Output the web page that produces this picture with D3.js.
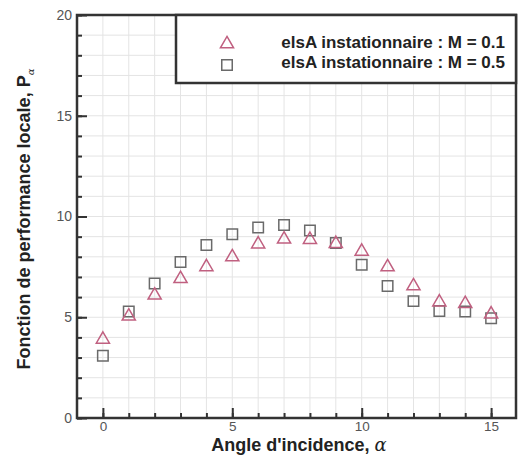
<!DOCTYPE html>
<html><head><meta charset="utf-8">
<script src="https://cdn.jsdelivr.net/npm/d3@7"></script>
<style>body{margin:0;background:#fff;}svg{display:block;}</style>
</head><body>
<script>
const alphas = [0,1,2,3,4,5,6,7,8,9,10,11,12,13,14,15];
const pM01 = [3.95,5.1,6.14,6.96,7.55,8.04,8.68,8.92,8.9,8.7,8.32,7.54,6.6,5.8,5.72,5.2];
const pM05 = [3.09,5.28,6.68,7.74,8.58,9.12,9.45,9.58,9.3,8.68,7.61,6.55,5.8,5.31,5.28,4.95];
const xTicks = [0,5,10,15];
const yTicks = [0,5,10,15,20];
const legendLabels = ["elsA instationnaire : M = 0.1","elsA instationnaire : M = 0.5"];

const W=518,H=459;
const L=77,R=517,T=15,B=418;
const svg=d3.select("body").append("svg").attr("width",W).attr("height",H);
const x=d3.scaleLinear().domain([-1,16]).range([L,R]);
const y=d3.scaleLinear().domain([0,20]).range([B,T]);
const font="Liberation Sans, Arial, sans-serif";

// grid
const g=svg.append("g");
g.selectAll(".gx").data(d3.range(0,16)).enter().append("line")
 .attr("x1",d=>x(d)).attr("x2",d=>x(d)).attr("y1",T).attr("y2",B)
 .attr("stroke","#e4e4e4").attr("stroke-width",1);
g.selectAll(".gy").data(d3.range(1,20)).enter().append("line")
 .attr("y1",d=>y(d)).attr("y2",d=>y(d)).attr("x1",L).attr("x2",R)
 .attr("stroke","#e4e4e4").attr("stroke-width",1);

// axes with inward ticks
const xMinor=d3.axisBottom(x).tickValues(d3.range(0,16)).tickSize(-5).tickFormat("");
const xMajor=d3.axisBottom(x).tickValues(xTicks).tickSize(-10).tickPadding(3);
const yMinor=d3.axisLeft(y).tickValues(d3.range(0,21)).tickSize(-5).tickFormat("");
const yMajor=d3.axisLeft(y).tickValues(yTicks).tickSize(-10).tickPadding(5);
[xMinor,xMajor].forEach(a=>{
  const ax=svg.append("g").attr("transform",`translate(0,${B})`).call(a);
  ax.select(".domain").remove();
  ax.selectAll("line").attr("stroke","#333").attr("stroke-width",2);
  ax.selectAll("text").attr("font-family",font).attr("font-size",13.5).attr("fill","#555");
});
[yMinor,yMajor].forEach(a=>{
  const ax=svg.append("g").attr("transform",`translate(${L},0)`).call(a);
  ax.select(".domain").remove();
  ax.selectAll("line").attr("stroke","#333").attr("stroke-width",2);
  ax.selectAll("text").attr("font-family",font).attr("font-size",14).attr("fill","#555");
});

// frame
svg.append("rect").attr("x",L).attr("y",T).attr("width",R-L-1).attr("height",B-T)
 .attr("fill","none").attr("stroke","#333").attr("stroke-width",2.5);

// markers
const tri=d3.symbol().type(d3.symbolTriangle).size(75);
const sq=d3.symbol().type(d3.symbolSquare).size(110);
const triColor="#c06080", sqColor="#6a6a6a";
svg.append("g").selectAll("path").data(alphas.map((a,i)=>[a,pM05[i]])).enter().append("path")
 .attr("d",sq).attr("transform",d=>`translate(${x(d[0])},${y(d[1])})`)
 .attr("fill","none").attr("stroke",sqColor).attr("stroke-width",1.5);
svg.append("g").selectAll("path").data(alphas.map((a,i)=>[a,pM01[i]])).enter().append("path")
 .attr("d",tri).attr("transform",d=>`translate(${x(d[0])},${y(d[1])+1})`)
 .attr("fill","none").attr("stroke",triColor).attr("stroke-width",1.5);

// legend
svg.append("rect").attr("x",176).attr("y",T).attr("width",R-176-1).attr("height",68)
 .attr("fill","#fff").attr("stroke","#333").attr("stroke-width",2.5);
svg.append("path").attr("d",tri).attr("transform","translate(227,44)")
 .attr("fill","none").attr("stroke",triColor).attr("stroke-width",1.5);
svg.append("path").attr("d",sq).attr("transform","translate(227,65)")
 .attr("fill","none").attr("stroke",sqColor).attr("stroke-width",1.5);
legendLabels.forEach((t,i)=>{
  svg.append("text").attr("x",505).attr("y",48+i*20).attr("text-anchor","end")
   .attr("font-family",font).attr("font-weight","bold").attr("font-size",17).attr("fill","#222").text(t);
});

// axis titles
const xt=svg.append("text").attr("x",299).attr("y",451).attr("text-anchor","middle")
 .attr("font-family",font).attr("font-weight","bold").attr("font-size",18).attr("fill","#222");
xt.append("tspan").text("Angle d'incidence, ");
xt.append("tspan").attr("font-weight","normal").attr("font-family","DejaVu Serif, serif").attr("font-style","italic").text("α");

const yt=svg.append("text").attr("transform","translate(30,219) rotate(-90)").attr("text-anchor","middle")
 .attr("font-family",font).attr("font-weight","bold").attr("font-size",18).attr("fill","#222");
yt.append("tspan").text("Fonction de performance locale, P");
yt.append("tspan").attr("font-size",10).attr("dy",4).attr("font-weight","normal").attr("font-family","DejaVu Serif, serif").attr("font-style","italic").text("α");
</script>
</body></html>
